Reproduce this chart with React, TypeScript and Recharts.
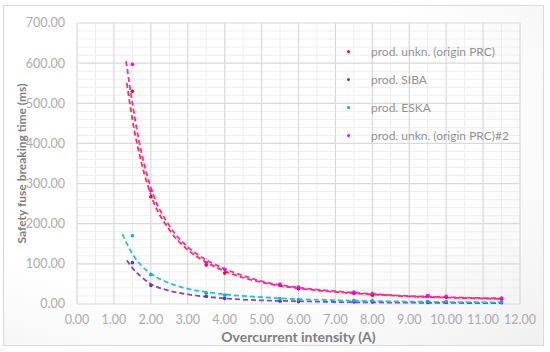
import { ComposedChart, Scatter, Line, XAxis, YAxis, CartesianGrid, Label } from 'recharts';

// measured points (A, ms)
const currents = [1.5, 2, 3.5, 4, 5.5, 6, 7.5, 8, 9.5, 10, 11.5];
const prcTimes = [530, 267, 97, 77, 47, 38, 27, 22, 20, 17, 12];
const sibaTimes = [103, 46, 19, 14, 7, 6, 5, 5, 4, 4, 3];
const eskaTimes = [170, 73, 27, 22, 13, 11, 9, 8, 7, 6, 5];
const prc2Times = [597, 282, 103, 86, 50, 42, 30, 26, 21, 19, 15];

// power trend lines
const prcTrendX = [1.35, 1.5, 1.75, 2, 2.5, 3, 3.5, 4, 5, 6, 7, 8, 9, 10, 11.5];
const prcTrendY = [550, 460, 350, 272, 185, 135, 104, 82, 54, 39, 30, 24, 19, 16, 13];
const sibaTrendX = [1.35, 1.5, 1.75, 2, 2.5, 3, 3.5, 4, 5, 6, 7, 8, 9, 10, 11.5];
const sibaTrendY = [109, 90, 67, 50, 33, 24, 18, 14, 9, 7, 5, 4, 3.3, 2.8, 2];
const eskaTrendX = [1.23, 1.5, 1.75, 2, 2.5, 3, 3.5, 4, 5, 6, 7, 8, 9, 10, 11.5];
const eskaTrendY = [174, 125, 95, 76, 52, 38, 30, 24, 17, 12, 9.5, 7.5, 6, 5, 4];
const prc2TrendX = [1.33, 1.5, 1.75, 2, 2.5, 3, 3.5, 4, 5, 6, 7, 8, 9, 10, 11.5];
const prc2TrendY = [605, 500, 375, 290, 195, 142, 110, 88, 57, 41, 32, 25, 20, 17, 14];

const xTicks = [0, 1, 2, 3, 4, 5, 6, 7, 8, 9, 10, 11, 12];
const yTicks = [0, 100, 200, 300, 400, 500, 600, 700];
const xMinor = [0.5, 1.5, 2.5, 3.5, 4.5, 5.5, 6.5, 7.5, 8.5, 9.5, 10.5, 11.5];
const yMinor = [20, 40, 60, 80, 120, 140, 160, 180, 220, 240, 260, 280, 320, 340, 360, 380, 420, 440, 460, 480, 520, 540, 560, 580, 620, 640, 660, 680];

const names = ['prod. unkn. (origin PRC)', 'prod. SIBA', 'prod. ESKA', 'prod. unkn. (origin PRC)#2'];
const dotColors = ['#ff0000', '#7030a0', '#00b0f0', '#ff00ff'];
const trendColors = ['#ff3333', '#9040b8', '#20bef0', '#ff20d8'];

const pts = (xs: number[], ys: number[]) => xs.map((x, i) => ({ x, y: ys[i] }));

const pointSets = [prcTimes, sibaTimes, eskaTimes, prc2Times].map((ys) => pts(currents, ys));
const trendSets = [
  pts(prcTrendX, prcTrendY),
  pts(sibaTrendX, sibaTrendY),
  pts(eskaTrendX, eskaTrendY),
  pts(prc2TrendX, prc2TrendY),
];

const FONT = 'Lato, "Open Sans", sans-serif';

function Dot(props: any) {
  const { cx, cy, fill } = props;
  return <circle cx={cx} cy={cy} r={1.8} fill={fill} />;
}

function LegendBox() {
  return (
    <div style={{ position: 'absolute', left: 347, top: 37, fontFamily: FONT, fontSize: 12, color: '#939393' }}>
      {names.map((n, i) => (
        <div key={n} style={{ display: 'flex', alignItems: 'center', height: 28 }}>
          <span style={{ width: 3, height: 3, borderRadius: 2, background: dotColors[i], marginRight: 21 }} />
          <span>{n}</span>
        </div>
      ))}
    </div>
  );
}

export default function App() {
  return (
    <div style={{ position: 'absolute', left: 0, top: 0, width: 550, height: 352, background: '#fff' }}>
      <div
        style={{
          position: 'absolute',
          left: 3,
          top: 5,
          width: 539,
          height: 339,
          border: '1px solid #d9d9d9',
          background: 'radial-gradient(ellipse at 35% 35%, #ffffff 55%, #f0f0f0 100%)',
        }}
      />
      <div style={{ position: 'absolute', left: 0, top: 0 }}>
        <ComposedChart width={550} height={352} margin={{ top: 23, right: 30, bottom: 0, left: 0 }}>
          <CartesianGrid stroke="#eeeeee" strokeWidth={1} verticalValues={xMinor} horizontalValues={yMinor} />
          <CartesianGrid stroke="#d9d9d9" strokeWidth={1.2} verticalValues={xTicks} horizontalValues={yTicks} />
          <XAxis
            type="number"
            dataKey="x"
            domain={[0, 12]}
            ticks={xTicks}
            interval={0}
            tickFormatter={(v: number) => v.toFixed(2)}
            axisLine={false}
            tickLine={false}
            tickSize={0}
            tickMargin={11}
            height={48}
            tick={{ fill: '#ababab', fontSize: 12.5, fontFamily: FONT }}
          >
            <Label
              value="Overcurrent intensity (A)"
              position="insideBottom"
              offset={10}
              style={{ fill: '#7f7f7f', fontSize: 14, fontWeight: 700, fontFamily: FONT }}
            />
          </XAxis>
          <YAxis
            type="number"
            dataKey="y"
            domain={[0, 700]}
            ticks={yTicks}
            interval={0}
            tickFormatter={(v: number) => v.toFixed(2)}
            axisLine={false}
            tickLine={false}
            tickSize={0}
            tickMargin={12}
            width={77}
            tick={{ fill: '#ababab', fontSize: 12.5, fontFamily: FONT }}
          >
            <Label
              value="Safety fuse breaking time (ms)"
              angle={-90}
              position="insideLeft"
              offset={22}
              style={{ fill: '#7f7f7f', fontSize: 12, fontWeight: 700, fontFamily: FONT, textAnchor: 'middle' }}
            />
          </YAxis>
          {trendSets.map((d, i) => (
            <Line
              key={'t' + i}
              data={d}
              dataKey="y"
              type="monotone"
              stroke={trendColors[i]}
              strokeWidth={1.8}
              strokeDasharray="5 3"
              dot={false}
              activeDot={false}
              legendType="none"
              isAnimationActive={false}
            />
          ))}
          {pointSets.map((d, i) => (
            <Scatter
              key={'s' + i}
              name={names[i]}
              data={d}
              fill={dotColors[i]}
              shape={<Dot />}
              isAnimationActive={false}
            />
          ))}
        </ComposedChart>
      </div>
      <LegendBox />
    </div>
  );
}
